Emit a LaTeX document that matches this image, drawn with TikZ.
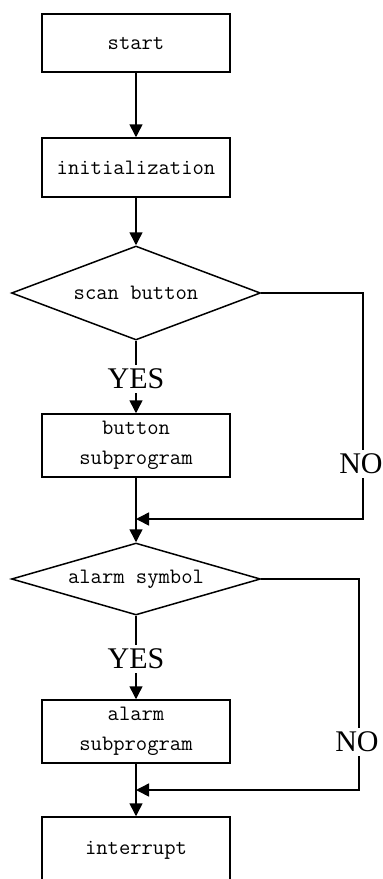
\documentclass[tikz,border=0pt]{standalone}
\usepackage{fontspec}
\usetikzlibrary{arrows.meta,positioning,shapes.geometric}
\newfontfamily\yesnofont{Liberation Serif}

\tikzset{
  block/.style={draw, line width=0.75pt, minimum width=94pt, inner sep=0pt,
    align=center, font=\ttfamily\fontsize{11}{15}\selectfont},
  decision/.style={draw, diamond, line width=0.75pt, minimum width=124.5pt,
    inner sep=0pt, font=\ttfamily\fontsize{11}{15}\selectfont},
  answer/.style={inner sep=2pt, font=\yesnofont\fontsize{15}{16}\selectfont},
  flow/.style={line width=0.75pt, -{Triangle[length=6.5pt,width=6.5pt]}},
  wire/.style={line width=0.75pt}
}

\begin{document}
\begin{tikzpicture}[x=0.5pt, y=-0.5pt]
    \useasboundingbox (0,0) rectangle (382,879);
    % main column
    \node[block, minimum height=29pt] (start) at (136,43) {start};
    \node[block, minimum height=29.5pt] (init) at (136,167.5) {initialization};
    \node[decision, minimum height=47pt, aspect=2.6] (scan) at (136,293) {scan button};
    \node[answer] (yes1) at (136,379) {YES};
    \node[block, minimum height=31.5pt] (button) at (136,445.5) {button\\subprogram};
    \coordinate (join1) at (136,519);
    \node[decision, minimum height=36pt, aspect=3] (alarm) at (136,579) {alarm symbol};
    \node[answer] (yes2) at (136,659) {YES};
    \node[block, minimum height=31.5pt] (alarmsub) at (136,731.5) {alarm\\subprogram};
    \coordinate (join2) at (136,790);
    \node[block, minimum height=33pt] (interrupt) at (136,850) {interrupt};
    % right branches
    \node[answer] (no1) at (361,464) {NO};
    \node[answer] (no2) at (357,742) {NO};
    \coordinate (turn1) at (363,293);
    \coordinate (turn2) at (359,579);

    \draw[flow] (start) -- (init);
    \draw[flow] (init) -- (scan);
    \draw[wire] (scan.south) -- (yes1.north);
    \draw[flow] (yes1.south) -- (button.north);
    \draw[flow] (button) -- (alarm);
    \draw[wire] (alarm.south) -- (yes2.north);
    \draw[flow] (yes2.south) -- (alarmsub.north);
    \draw[flow] (alarmsub) -- (interrupt);

    \draw[wire] (scan.east) -- (turn1) -- (turn1 |- no1.north);
    \draw[flow] (turn1 |- no1.south) |- (join1);
    \draw[wire] (alarm.east) -- (turn2) -- (turn2 |- no2.north);
    \draw[flow] (turn2 |- no2.south) |- (join2);
\end{tikzpicture}
\end{document}
